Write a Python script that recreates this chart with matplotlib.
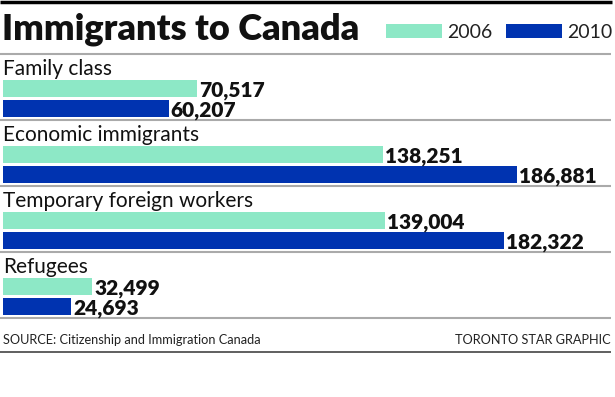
import matplotlib.pyplot as plt
from matplotlib.patches import Rectangle

categories = ["Family class", "Economic immigrants", "Temporary foreign workers", "Refugees"]
values_2006 = [70517, 138251, 139004, 32499]
values_2010 = [60207, 186881, 182322, 24693]
years = ["2006", "2010"]
colors = ["#8de8c6", "#0033b0"]

W, H = 615, 397
fig = plt.figure(figsize=(W / 100, H / 100), dpi=100)

# overlay in pixel coordinates for rules and header text
ov = fig.add_axes([0, 0, 1, 1])
ov.set_xlim(0, W)
ov.set_ylim(H, 0)
ov.axis('off')

# bar axes: x in people, y in pixel rows
px_per = 514 / 186881
ax = fig.add_axes([3 / W, 0, 1 - 3 / W, 1])
ax.set_xlim(0, (W - 3) / px_per)
ax.set_ylim(H, 0)
ax.axis('off')

txt = 'Lato'

# top black rule and title
ov.plot([0, 612], [1.5, 1.5], color='black', lw=2.5, solid_capstyle='butt')
ov.text(2, 40, "Immigrants to Canada", fontsize=26, fontweight='heavy',
        family=txt, va='baseline', ha='left', color='#111111')

# legend
leg_x = [386, 506]
for i, yr in enumerate(years):
    ov.add_patch(Rectangle((leg_x[i], 24), 56, 14, color=colors[i], lw=0))
    ov.text(leg_x[i] + 61, 38, yr, fontsize=14, family=txt, va='baseline',
            ha='left', color='#222222')

# group rules
for k in range(5):
    y = 54 + 66 * k
    ov.plot([0, 611], [y, y], color='#aaaaaa', lw=1.5, solid_capstyle='butt')

for k, cat in enumerate(categories):
    top = 54 + 66 * k
    ov.text(3, top + 21, cat, fontsize=15, family=txt, va='baseline',
            ha='left', color='#111111')
    for j, vals in enumerate([values_2006, values_2010]):
        yc = top + 34.5 + 19.5 * j
        ax.barh(yc, vals[k], height=17, left=0, color=colors[j], lw=0)
        ax.annotate(f"{vals[k]:,}", (vals[k], yc + 8.5), xytext=(2, 0),
                    textcoords='offset pixels', fontsize=15, fontweight='heavy',
                    family=txt, va='baseline', ha='left', color='#111111')

# footer
ov.text(3, 344, "SOURCE: Citizenship and Immigration Canada", fontsize=9.2,
        family=txt, va='baseline', ha='left', color='#222222')
ov.text(611, 344, "TORONTO STAR GRAPHIC", fontsize=9.2, family=txt,
        va='baseline', ha='right', color='#222222')
ov.plot([0, 611], [352, 352], color='#444444', lw=1.2, solid_capstyle='butt')

fig.savefig('out.png', dpi=100, facecolor='white')
